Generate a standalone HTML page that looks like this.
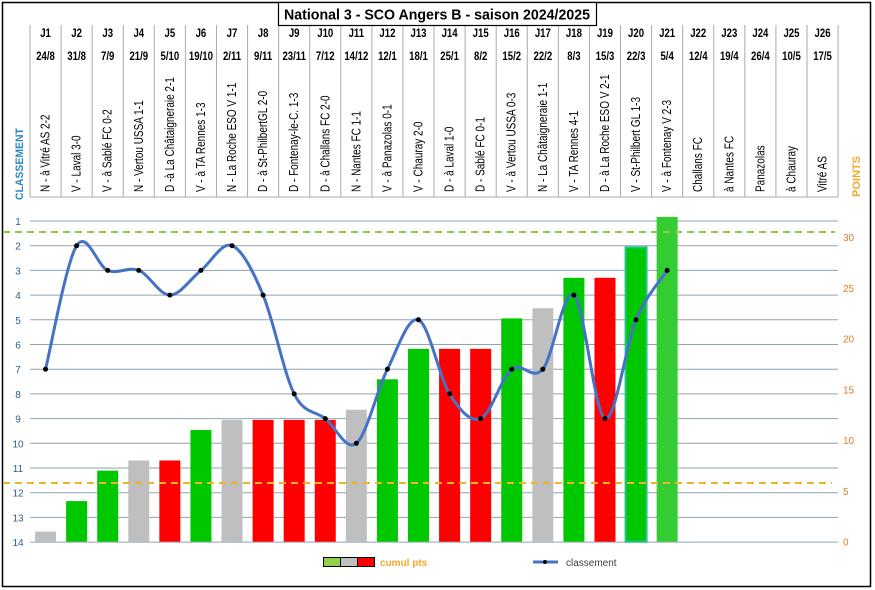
<!DOCTYPE html>
<html><head><meta charset="utf-8"><style>
html,body{margin:0;padding:0;background:#fff;}
svg{display:block;}
</style></head><body>
<svg id="s" width="875" height="590" xmlns="http://www.w3.org/2000/svg" font-family="Liberation Sans, sans-serif"></svg>
<script>
var s=document.getElementById('s');var h='';
h+='<rect x="2.5" y="2.5" width="868" height="584" fill="#fff" stroke="#000" stroke-width="1.5"/>';
var x0=30,cw=31.08;
function cx(i){return x0+cw*(i+0.5);}
function ry(r){return 221+(r-1)*24.7;}
function py(p){return 541.7-p*10.15;}
for(var i=0;i<=26;i++){var x=x0+cw*i;h+='<line x1="'+x+'" y1="25" x2="'+x+'" y2="197" stroke="#aaa" stroke-width="1"/>';}
h+='<line x1="30" y1="197" x2="838" y2="197" stroke="#aaa"/>';
var dates=["24/8","31/8","7/9","21/9","5/10","19/10","2/11","9/11","23/11","7/12","14/12","12/1","18/1","25/1","8/2","15/2","22/2","8/3","15/3","22/3","5/4","12/4","19/4","26/4","10/5","17/5"];
var m=["N - à Vitré AS 2-2","V - Laval 3-0","V - à Sablé FC 0-2","N - Vertou USSA 1-1","D -à La Châtaigneraie 2-1","V - à TA Rennes 1-3","N - La Roche ESO V 1-1","D - à St-PhilbertGL 2-0","D - Fontenay-le-C. 1-3","D - à Challans FC 2-0","N - Nantes FC 1-1","V - à Panazolas 0-1","V - Chauray  2-0","D - à Laval 1-0","D - Sablé FC 0-1","V - à Vertou USSA 0-3","N - La Châtaigneraie 1-1","V - TA Rennes 4-1","D - à La Roche ESO V 2-1","V - St-Philbert GL  1-3","V - à Fontenay V 2-3","Challans FC","à Nantes FC","Panazolas","à Chauray","Vitré AS"];
for(var i=0;i<26;i++){var x=cx(i);
h+='<text transform="translate('+x+',37) scale(0.8,1)" font-size="12" font-weight="bold" text-anchor="middle">J'+(i+1)+'</text>';
h+='<text transform="translate('+x+',60) scale(0.8,1)" font-size="12" font-weight="bold" text-anchor="middle">'+dates[i]+'</text>';
h+='<text transform="translate('+(x+4)+',192) rotate(-90) scale(0.8,1)" font-size="12.5">'+m[i]+'</text>';}
h+='<rect x="278.5" y="2.5" width="318" height="23" fill="#fff" stroke="#000" stroke-width="1.2"/>';
h+='<text x="284" y="19.5" font-size="15" font-weight="bold" textLength="306" lengthAdjust="spacingAndGlyphs">National 3 - SCO Angers B - saison 2024/2025</text>';
for(var r=1;r<=14;r++){var y=ry(r);h+='<line x1="30" y1="'+y+'" x2="838" y2="'+y+'" stroke="#8fa3b3" stroke-width="1"/>';
h+='<text x="18" y="'+(y+4)+'" font-size="10" fill="#2e5f8a" text-anchor="middle">'+r+'</text>';}
for(var p=0;p<=30;p+=5){h+='<text x="843" y="'+(py(p)+4)+'" font-size="10" fill="#e07b28">'+p+'</text>';}
h+='<text transform="translate(23,200) rotate(-90) scale(0.95,1)" font-size="11" font-weight="bold" fill="#2e86c1">CLASSEMENT</text>';
h+='<text transform="translate(860,197) rotate(-90)" font-size="11" font-weight="bold" fill="#f0a830">POINTS</text>';
var pts=[1,4,7,8,8,11,12,12,12,12,13,16,19,19,19,22,23,26,26,29,32];
var G="#00c800",Y="#bfbfbf",R="#ff0000",L="#33cc33";
var col=[Y,G,G,Y,R,G,Y,R,R,R,Y,G,G,R,R,G,Y,G,R,G,L];
for(var i=0;i<21;i++){var x=cx(i)-10.5;var y=py(pts[i]);
var st=i==19?' stroke="#1fc48a" stroke-width="2"':'';
h+='<rect x="'+x+'" y="'+y+'" width="21" height="'+(541.7-y)+'" fill="'+col[i]+'"'+st+'/>';}
h+='<line x1="3" y1="232" x2="835" y2="232" stroke="#8cc84b" stroke-width="2" stroke-dasharray="7,5"/>';
h+='<line x1="3" y1="483" x2="832" y2="483" stroke="#f0b428" stroke-width="2" stroke-dasharray="7,5"/>';
var rk=[7,2,3,3,4,3,2,4,8,9,10,7,5,8,9,7,7,4,9,5,3];
var P=rk.map(function(r,i){return [cx(i),ry(r)];});
var d='M'+P[0][0]+','+P[0][1];
for(var i=0;i<P.length-1;i++){var a=P[i-1]||P[i],b=P[i],c=P[i+1],e=P[i+2]||c;var t=6;
d+=' C'+(b[0]+(c[0]-a[0])/t)+','+(b[1]+(c[1]-a[1])/t)+' '+(c[0]-(e[0]-b[0])/t)+','+(c[1]-(e[1]-b[1])/t)+' '+c[0]+','+c[1];}
h+='<path d="'+d+'" fill="none" stroke="#4472c4" stroke-width="3"/>';
P.forEach(function(p){h+='<circle cx="'+p[0]+'" cy="'+p[1]+'" r="2.5" fill="#000"/>';});
h+='<rect x="323.5" y="557.5" width="17" height="9" fill="#92d050" stroke="#000"/><rect x="340.5" y="557.5" width="17" height="9" fill="#bfbfbf" stroke="#000"/><rect x="357.5" y="557.5" width="17" height="9" fill="#ff0000" stroke="#000"/>';
h+='<text x="380" y="566" font-size="10" font-weight="bold" fill="#f0a830">cumul pts</text>';
h+='<line x1="533" y1="562" x2="558" y2="562" stroke="#4472c4" stroke-width="3"/><circle cx="545" cy="562" r="2" fill="#000"/>';
h+='<text x="566" y="566" font-size="10" fill="#404040">classement</text>';
s.innerHTML=h;
</script>
</body></html>
